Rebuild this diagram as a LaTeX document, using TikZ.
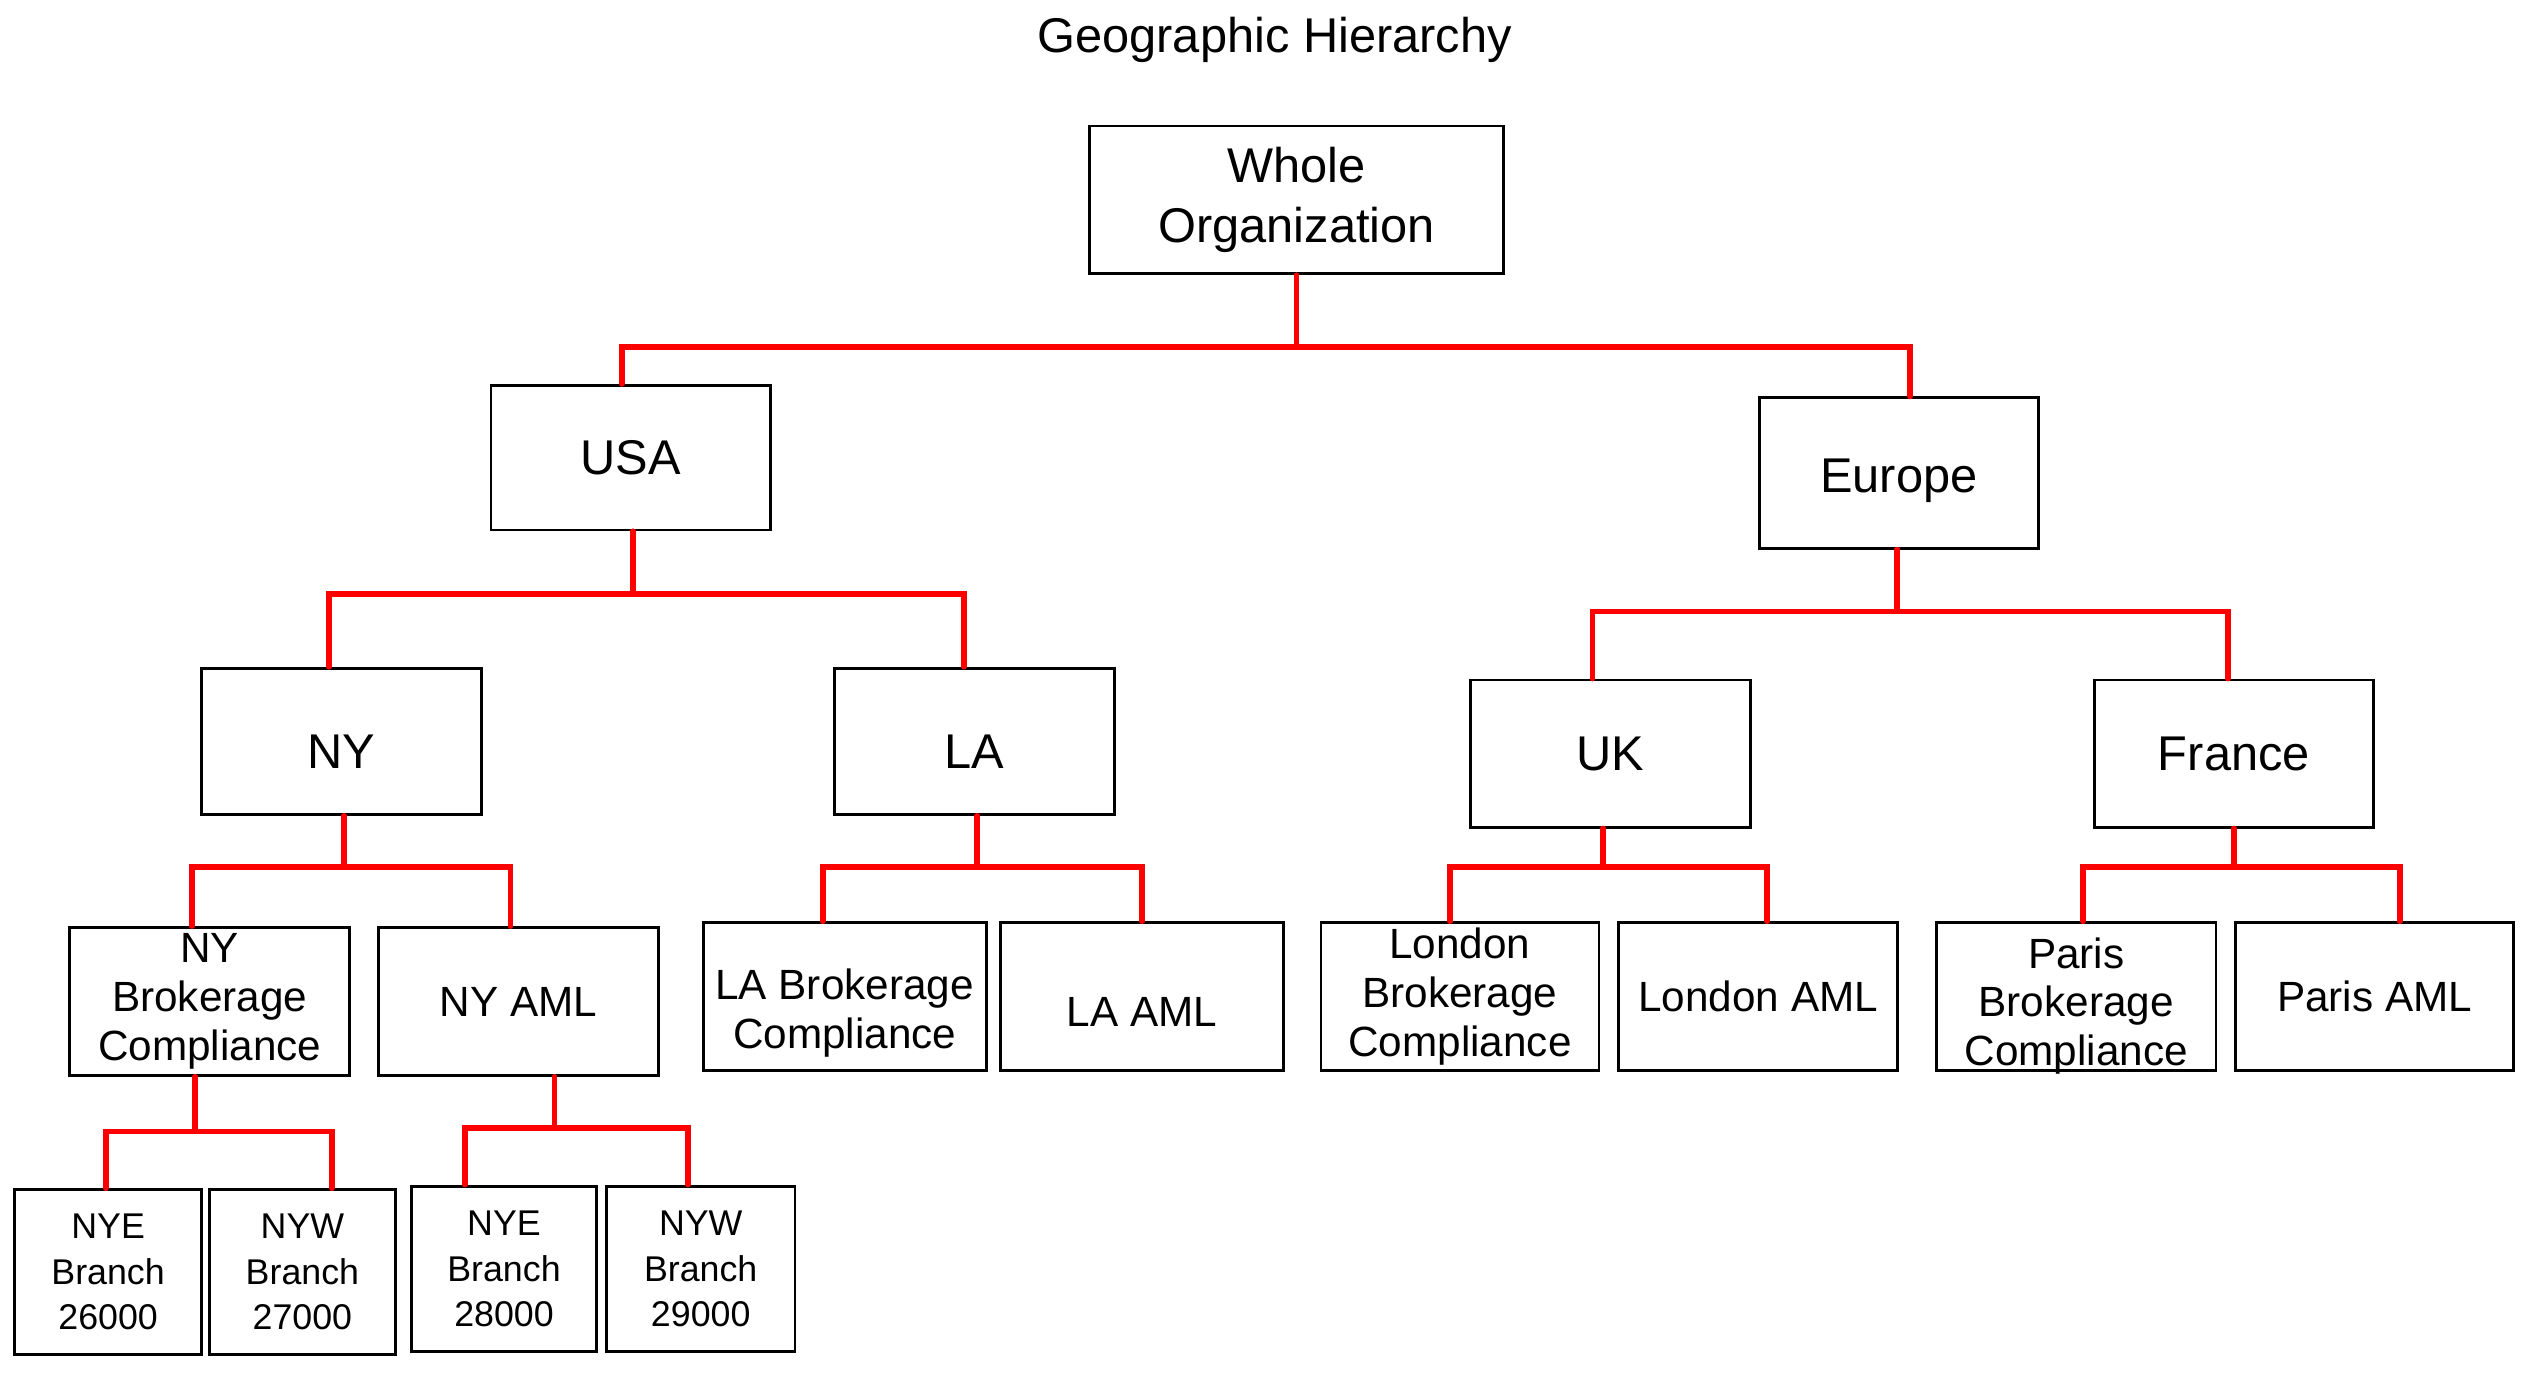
\documentclass[tikz,border=0pt]{standalone}
\usepackage{fontspec}
\setmainfont{Liberation Sans}
\begin{document}
\begin{tikzpicture}[x=1pt,y=-1pt,
        orgbox/.style={draw,line width=1.8pt,inner sep=0pt,align=center},
        toptext/.style={font=\fontsize{30}{37}\selectfont},
        midtext/.style={font=\fontsize{26}{30}\selectfont},
        branchtext/.style={font=\fontsize{22}{28}\selectfont},
        redline/.style={red,line width=3.5pt,line cap=round}]
                \useasboundingbox (0,0) rectangle (1566,852);
                \node[toptext,anchor=base] (title) at (784,32) {Geographic Hierarchy};
                \node[orgbox,toptext,minimum width=255,minimum height=91] (whole) at (797.5,123) {Whole\\Organization};
                \node[orgbox,toptext,minimum width=172,minimum height=89] (usa) at (388,281.5) {USA};
                \node[orgbox,toptext,minimum width=172,minimum height=92.5] (europe) at (1168,291) {\rule{0pt}{29.5pt}Europe};
                \node[orgbox,toptext,minimum width=172,minimum height=90] (ny) at (210,456) {\rule{0pt}{33.5pt}NY};
                \node[orgbox,toptext,minimum width=172,minimum height=90] (la) at (599.5,456) {\rule{0pt}{33.5pt}LA};
                \node[orgbox,toptext,minimum width=172,minimum height=90.5] (uk) at (990.5,463.5) {UK};
                \node[orgbox,toptext,minimum width=172,minimum height=90.5] (france) at (1374,463.5) {France};
                \node[orgbox,midtext,minimum width=172,minimum height=91] (nybc) at (129,616) {NY\\Brokerage\\Compliance};
                \node[orgbox,midtext,minimum width=172,minimum height=91] (nyaml) at (319,616) {NY AML};
                \node[orgbox,midtext,minimum width=174,minimum height=91] (labc) at (519.5,613) {\rule{0pt}{38.6pt}LA Brokerage\\Compliance};
                \node[orgbox,midtext,minimum width=174,minimum height=91] (laaml) at (702.5,613) {\rule{0pt}{36.6pt}LA AML};
                \node[orgbox,midtext,minimum width=171,minimum height=91] (lonbc) at (898,613) {London\\Brokerage\\Compliance};
                \node[orgbox,midtext,minimum width=171.5,minimum height=91] (lonaml) at (1081.5,613) {London AML};
                \node[orgbox,midtext,minimum width=172,minimum height=91,text depth=0pt,text height=85pt] (parbc) at (1277,613) {Paris\\Brokerage\\Compliance};
                \node[orgbox,midtext,minimum width=171,minimum height=91] (paraml) at (1460.5,613) {Paris AML};
                \node[orgbox,branchtext,minimum width=115,minimum height=101.5] (nye26) at (66.5,782.5) {NYE\\Branch\\26000};
                \node[orgbox,branchtext,minimum width=114,minimum height=101.5] (nyw27) at (186,782.5) {NYW\\Branch\\27000};
                \node[orgbox,branchtext,minimum width=114,minimum height=102] (nye28) at (310,780.5) {NYE\\Branch\\28000};
                \node[orgbox,branchtext,minimum width=116,minimum height=102] (nyw29) at (431,780.5) {NYW\\Branch\\29000};
                \draw[redline] (whole.south) -- ++(0,44) -| ([xshift=-5.5pt]usa.north);
                \draw[redline] (whole.south) -- ++(0,44) -| ([xshift=7pt]europe.north);
                \draw[redline] ([xshift=1.5pt]usa.south) -- ++(0,38.5) -| ([xshift=-7.5pt]ny.north);
                \draw[redline] ([xshift=1.5pt]usa.south) -- ++(0,38.5) -| ([xshift=-6.5pt]la.north);
                \draw[redline] ([xshift=-1pt]europe.south) -- ++(0,38) -| ([xshift=-11pt]uk.north);
                \draw[redline] ([xshift=-1pt]europe.south) -- ++(0,38) -| ([xshift=-3.5pt]france.north);
                \draw[redline] ([xshift=1.5pt]ny.south) -- ++(0,31.5) -| ([xshift=-11pt]nybc.north);
                \draw[redline] ([xshift=1.5pt]ny.south) -- ++(0,31.5) -| ([xshift=-5pt]nyaml.north);
                \draw[redline] ([xshift=1.5pt]la.south) -- ++(0,31.5) -| ([xshift=-13.5pt]labc.north);
                \draw[redline] ([xshift=1.5pt]la.south) -- ++(0,31.5) -| (laaml.north);
                \draw[redline] ([xshift=-4.5pt]uk.south) -- ++(0,23.5) -| ([xshift=-6pt]lonbc.north);
                \draw[redline] ([xshift=-4.5pt]uk.south) -- ++(0,23.5) -| ([xshift=5.5pt]lonaml.north);
                \draw[redline] (france.south) -- ++(0,23.5) -| ([xshift=4pt]parbc.north);
                \draw[redline] (france.south) -- ++(0,23.5) -| ([xshift=15.5pt]paraml.north);
                \draw[redline] ([xshift=-9pt]nybc.south) -- ++(0,33.5) -| ([xshift=-1.5pt]nye26.north);
                \draw[redline] ([xshift=-9pt]nybc.south) -- ++(0,33.5) -| ([xshift=18pt]nyw27.north);
                \draw[redline] ([xshift=22pt]nyaml.south) -- ++(0,31.5) -| ([xshift=-24pt]nye28.north);
                \draw[redline] ([xshift=22pt]nyaml.south) -- ++(0,31.5) -| ([xshift=-8pt]nyw29.north);
            \end{tikzpicture}
\end{document}
